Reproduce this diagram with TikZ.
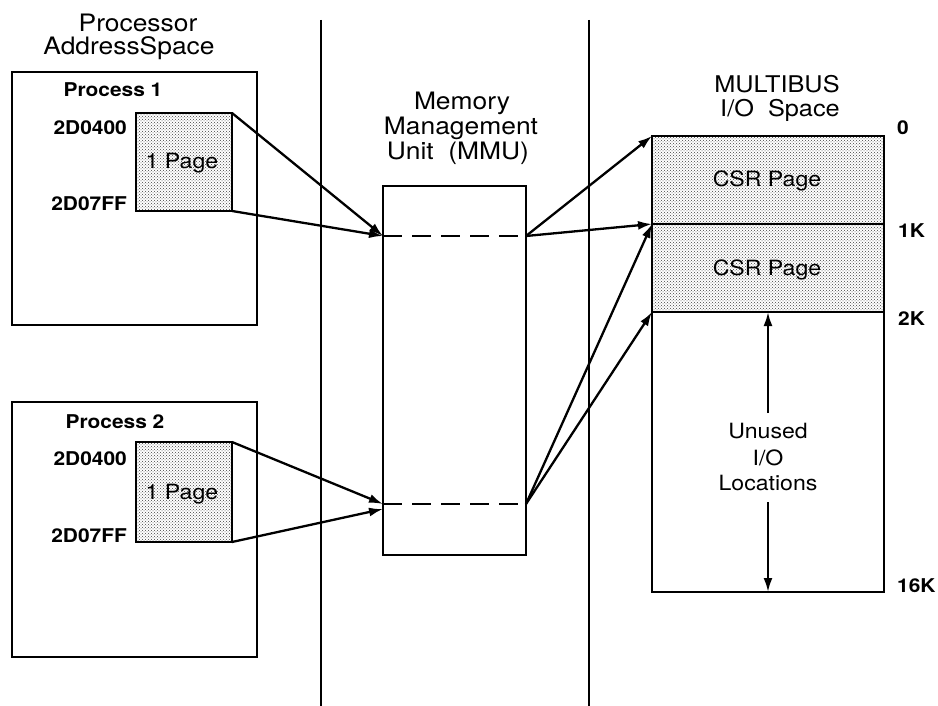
\documentclass[tikz,border=0pt]{standalone}
\usepackage{fontspec}
\setmainfont{TeX Gyre Heros}[FakeStretch=1.1]
\usetikzlibrary{arrows.meta,patterns}
\tikzset{
  box/.style={draw, line width=2.6pt, rectangle, inner sep=0pt, outer sep=0pt},
  shade/.style={box, pattern=crosshatch dots, pattern color=black!75},
  conn/.style={line width=2.3pt, -{Latex[length=14pt,width=9pt]}},
  vline/.style={line width=2.8pt},
  dashline/.style={line width=2.3pt, dash pattern=on 19pt off 10pt},
  title/.style={anchor=base, inner sep=0pt, font=\fontsize{24}{24}\selectfont},
  mtitle/.style={anchor=base, inner sep=0pt, font=\fontsize{24}{24}\selectfont},
  lab/.style={anchor=base, inner sep=0pt, font=\fontsize{19}{19}\selectfont\bfseries},
  addr/.style={anchor=base east, inner sep=0pt, font=\fontsize{19}{19}\selectfont\bfseries},
  kval/.style={anchor=base west, inner sep=0pt, font=\fontsize{19}{19}\selectfont\bfseries},
  txt/.style={anchor=base, inner sep=0pt, font=\fontsize{21}{21}\selectfont},
}
\begin{document}
\begin{tikzpicture}[x=1pt,y=-1pt]
\useasboundingbox (0,0) rectangle (938,706);
% separators
\coordinate (s1t) at (321,20); \coordinate (s1b) at (321,706);
\coordinate (s2t) at (589,20); \coordinate (s2b) at (589,706);
\draw[vline] (s1t) -- (s1b);
\draw[vline] (s2t) -- (s2b);
% processor address space
\node[title] (t1) at (138,32) {Processor};
\node[title] (t2) at (129,55) {AddressSpace};
\node[box, minimum width=245pt, minimum height=253pt] (p1) at (134.5,198.5) {};
\node[shade, minimum width=96pt, minimum height=98pt] (pg1) at (184,162) {};
\node[lab] (l1) at (113,97) {Process 1};
\node[addr] (a11) at (127,135) {2D0400};
\node[addr] (a12) at (127,211) {2D07FF};
\node[txt] (pp1) at (182,169) {1 Page};
\node[box, minimum width=245pt, minimum height=255pt] (p2) at (134.5,529.5) {};
\node[shade, minimum width=96pt, minimum height=100pt] (pg2) at (184,492) {};
\node[lab] (l2) at (115,428) {Process 2};
\node[addr] (a21) at (127,465) {2D0400};
\node[addr] (a22) at (127,542) {2D07FF};
\node[txt] (pp2) at (182,499) {1 Page};
% MMU
\node[mtitle] (m1) at (462,110) {Memory};
\node[mtitle] (m2) at (461,135) {Management};
\node[mtitle] (m3) at (458,160) {Unit\ \ (MMU)};
\node[box, minimum width=143pt, minimum height=369pt] (mmu) at (454.5,370.5) {};
\coordinate (d1l) at (383,236); \coordinate (d1r) at (526,236);
\coordinate (d2l) at (383,504); \coordinate (d2r) at (526,504);
\coordinate (d2lb) at (383,509);
\draw[dashline] (d1l) -- (d1r);
\draw[dashline] (d2l) -- (d2r);
% MULTIBUS
\node[mtitle, font=\fontsize{23}{23}\selectfont] (b1) at (777,93) {MULTIBUS};
\node[mtitle, font=\fontsize{23}{23}\selectfont] (b2) at (780,117) {I/O\ \ Space};
\node[shade, minimum width=232pt, minimum height=88pt] (csr1) at (768,180) {};
\node[shade, minimum width=232pt, minimum height=88pt] (csr2) at (768,268) {};
\node[box, minimum width=232pt, minimum height=280pt] (un) at (768,452) {};
\node[txt] (c1) at (767,187) {CSR Page};
\node[txt] (c2) at (767,275) {CSR Page};
\node[txt] (u1) at (768,438) {Unused};
\node[txt] (u2) at (768,465) {I/O};
\node[txt] (u3) at (768,490) {Locations};
\coordinate (ua) at (768,413); \coordinate (ub) at (768,502);
\draw[conn] (ua) -- (un.north);
\draw[conn] (ub) -- (un.south);
\node[kval] (k0) at (897,135) {0};
\node[kval] (k1) at (898,237) {1K};
\node[kval] (k2) at (898,325) {2K};
\node[kval] (k16) at (897,592) {16K};
% connectors
\draw[conn] (pg1.north east) -- (d1l);
\draw[conn] (pg1.south east) -- (d1l);
\draw[conn] (pg2.north east) -- (d2l);
\draw[conn] (pg2.south east) -- (d2lb);
\draw[conn] (d1r) -- (csr1.north west);
\draw[conn] (d1r) -- (csr1.south west);
\draw[conn] (d2r) -- (csr1.south west);
\draw[conn] (d2r) -- (csr2.south west);
\end{tikzpicture}
\end{document}
